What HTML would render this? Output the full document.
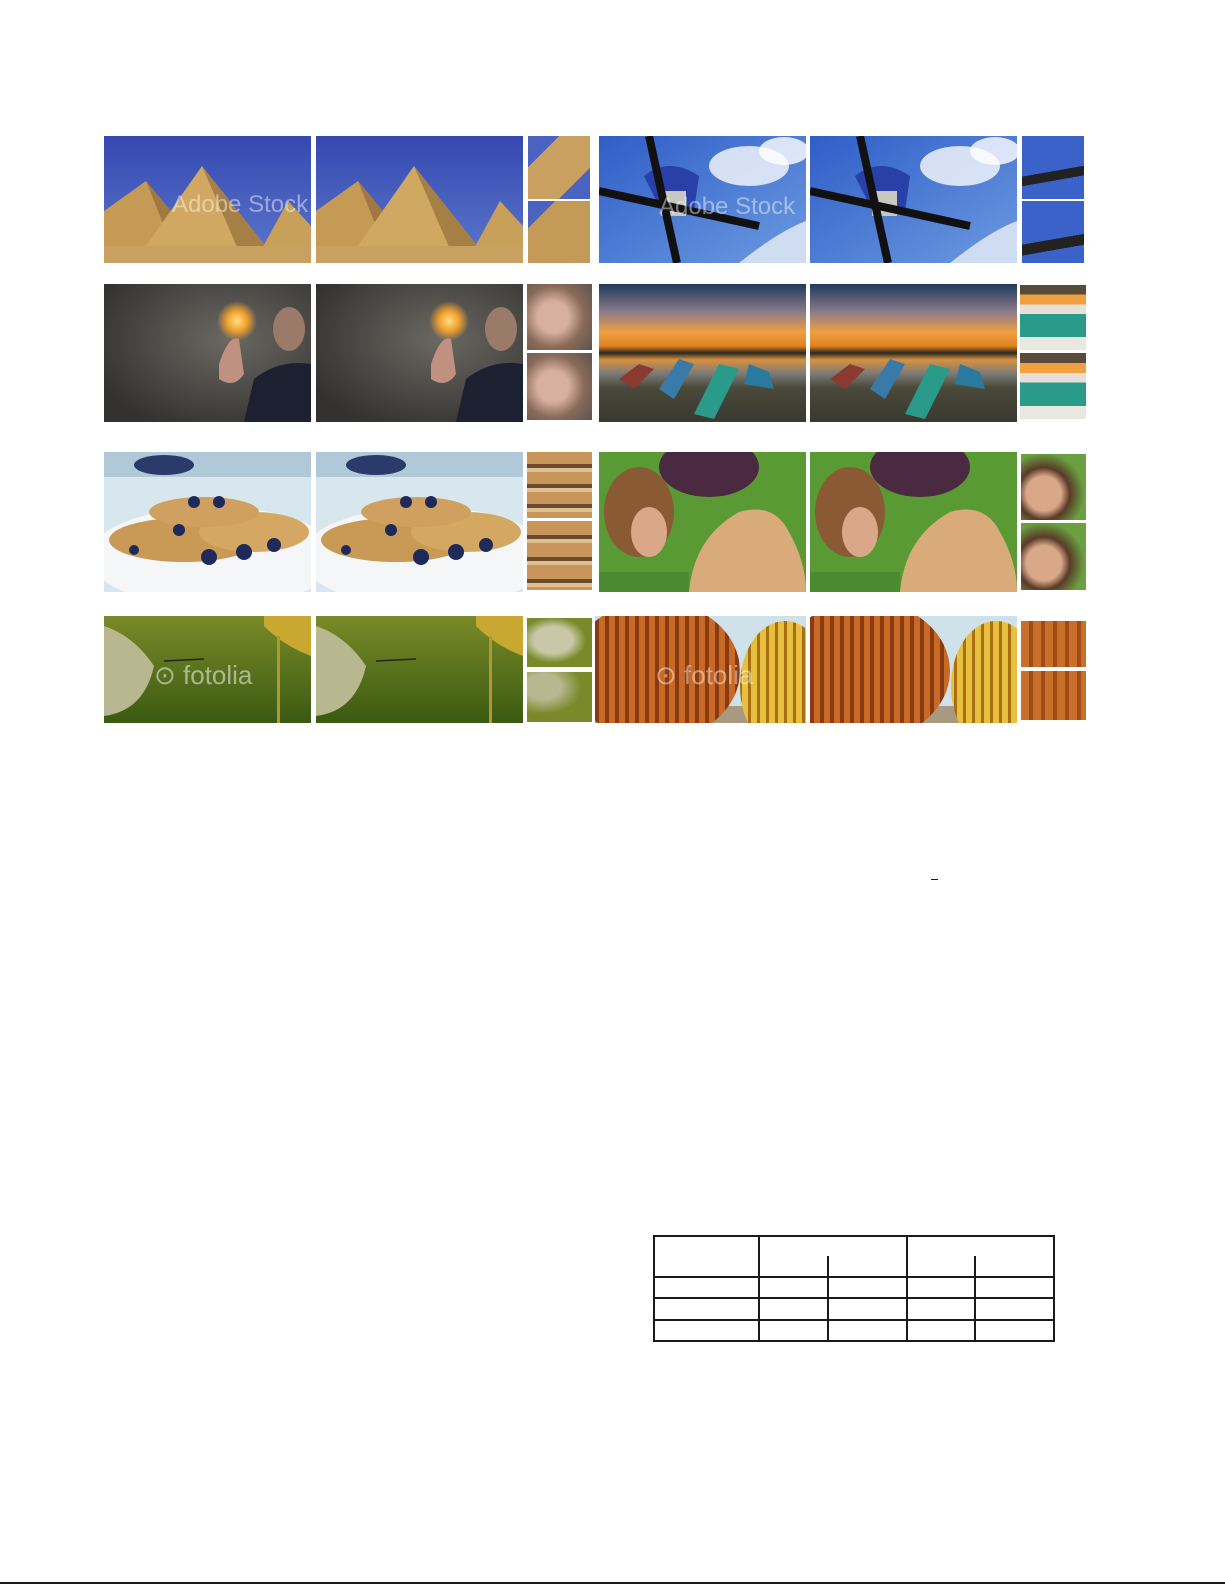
<!DOCTYPE html>
<html><head><meta charset="utf-8"><style>
body{margin:0;width:1225px;height:1585px;background:#fff;position:relative;overflow:hidden;font-family:"Liberation Sans",sans-serif}
.p{position:absolute;display:block}
.ln{position:absolute;background:#1a1a1a}
</style></head><body>

<!-- Row 1: pyramids -->
<svg class="p" style="left:104px;top:136px" width="207" height="127" viewBox="0 0 207 127" preserveAspectRatio="none">
<defs><linearGradient id="sky1" x1="0" y1="0" x2="0" y2="1"><stop offset="0" stop-color="#3548b0"/><stop offset="1" stop-color="#5c78cc"/></linearGradient></defs>
<rect width="207" height="127" fill="url(#sky1)"/>
<polygon points="0,127 0,75 42,45 110,127" fill="#c59a55"/><polygon points="42,45 110,127 75,127" fill="#a07840"/>
<polygon points="30,127 98,30 175,127" fill="#d0a862"/><polygon points="98,30 175,127 140,127" fill="#a67f45"/>
<polygon points="150,127 184,65 207,90 207,127" fill="#c9a05a"/>
<rect y="110" width="207" height="17" fill="#c8a060"/>
<text x="68" y="76" font-size="24" fill="#ffffff" fill-opacity="0.45">Adobe Stock</text>
</svg>
<svg class="p" style="left:316px;top:136px" width="207" height="127" viewBox="0 0 207 127" preserveAspectRatio="none">
<rect width="207" height="127" fill="url(#sky1)"/>
<polygon points="0,127 0,75 42,45 110,127" fill="#c59a55"/><polygon points="42,45 110,127 75,127" fill="#a07840"/>
<polygon points="30,127 98,30 175,127" fill="#d0a862"/><polygon points="98,30 175,127 140,127" fill="#a67f45"/>
<polygon points="150,127 184,65 207,90 207,127" fill="#c9a05a"/>
<rect y="110" width="207" height="17" fill="#c8a060"/>
</svg>
<div class="p" style="left:528px;top:136px;width:62px;height:63px;background:linear-gradient(135deg,#4a62c0 0 25%,#c9a060 25% 75%,#4a62c0 75%)"></div>
<div class="p" style="left:528px;top:201px;width:62px;height:62px;background:linear-gradient(135deg,#4a62c0 0 22%,#c49a58 22%)"></div>

<svg class="p" style="left:599px;top:136px" width="207" height="127" viewBox="0 0 207 127" preserveAspectRatio="none">
<defs><linearGradient id="sky2" x1="0" y1="0" x2="1" y2="1"><stop offset="0" stop-color="#2f5ec8"/><stop offset="1" stop-color="#6c9ae0"/></linearGradient></defs>
<rect width="207" height="127" fill="url(#sky2)"/>
<ellipse cx="150" cy="30" rx="40" ry="20" fill="#eef3fb" opacity="0.85"/><ellipse cx="185" cy="15" rx="25" ry="14" fill="#fff" opacity="0.8"/>
<path d="M140 127 Q180 95 207 85 L207 127Z" fill="#cfdcf2"/>
<path d="M45 40 Q70 20 100 40 L95 75 L60 70Z" fill="#2840a8"/>
<rect x="62" y="55" width="25" height="25" fill="#c8c8c0"/>
<line x1="0" y1="55" x2="160" y2="90" stroke="#111" stroke-width="8"/>
<line x1="50" y1="0" x2="78" y2="127" stroke="#111" stroke-width="8"/>
<text x="60" y="78" font-size="24" fill="#fff" fill-opacity="0.45">Adobe Stock</text>
</svg>
<svg class="p" style="left:810px;top:136px" width="207" height="127" viewBox="0 0 207 127" preserveAspectRatio="none">
<rect width="207" height="127" fill="url(#sky2)"/>
<ellipse cx="150" cy="30" rx="40" ry="20" fill="#eef3fb" opacity="0.85"/><ellipse cx="185" cy="15" rx="25" ry="14" fill="#fff" opacity="0.8"/>
<path d="M140 127 Q180 95 207 85 L207 127Z" fill="#cfdcf2"/>
<path d="M45 40 Q70 20 100 40 L95 75 L60 70Z" fill="#2840a8"/>
<rect x="62" y="55" width="25" height="25" fill="#c8c8c0"/>
<line x1="0" y1="55" x2="160" y2="90" stroke="#111" stroke-width="8"/>
<line x1="50" y1="0" x2="78" y2="127" stroke="#111" stroke-width="8"/>
</svg>
<div class="p" style="left:1022px;top:136px;width:62px;height:63px;background:linear-gradient(170deg,#3a62c8 0 55%,#222 55% 68%,#3a62c8 68%)"></div>
<div class="p" style="left:1022px;top:201px;width:62px;height:62px;background:linear-gradient(170deg,#3a62c8 0 60%,#222 60% 75%,#3a62c8 75%)"></div>

<!-- Row 2 -->
<svg class="p" style="left:104px;top:284px" width="207" height="138" viewBox="0 0 207 138" preserveAspectRatio="none">
<defs><radialGradient id="g1" cx="0.6" cy="0.4" r="0.7"><stop offset="0" stop-color="#6a6862"/><stop offset="1" stop-color="#343230"/></radialGradient>
<radialGradient id="glow" cx="0.5" cy="0.5" r="0.5"><stop offset="0" stop-color="#ffe080"/><stop offset="0.5" stop-color="#f0a030"/><stop offset="1" stop-color="#f0a030" stop-opacity="0"/></radialGradient></defs>
<rect width="207" height="138" fill="url(#g1)"/>
<path d="M140 138 L150 95 Q175 75 207 80 L207 138Z" fill="#1c2030"/>
<ellipse cx="185" cy="45" rx="16" ry="22" fill="#9a7a68"/>
<circle cx="133" cy="37" r="20" fill="url(#glow)"/>
<path d="M115 80 Q125 50 135 55 L140 90 Q130 105 115 95Z" fill="#c09080"/>
</svg>
<svg class="p" style="left:316px;top:284px" width="207" height="138" viewBox="0 0 207 138" preserveAspectRatio="none">
<rect width="207" height="138" fill="url(#g1)"/>
<path d="M140 138 L150 95 Q175 75 207 80 L207 138Z" fill="#1c2030"/>
<ellipse cx="185" cy="45" rx="16" ry="22" fill="#9a7a68"/>
<circle cx="133" cy="37" r="20" fill="url(#glow)"/>
<path d="M115 80 Q125 50 135 55 L140 90 Q130 105 115 95Z" fill="#c09080"/>
</svg>
<div class="p" style="left:527px;top:284px;width:65px;height:66px;background:radial-gradient(circle at 40% 50%,#d8b0a0 0 30%,#8a6a58 60%,#5a5450)"></div>
<div class="p" style="left:527px;top:353px;width:65px;height:67px;background:radial-gradient(circle at 40% 50%,#d8b0a0 0 30%,#8a6a58 60%,#5a5450)"></div>

<svg class="p" style="left:599px;top:284px" width="207" height="138" viewBox="0 0 207 138" preserveAspectRatio="none">
<defs><linearGradient id="sun" x1="0" y1="0" x2="0" y2="1"><stop offset="0" stop-color="#1e3a5a"/><stop offset="0.2" stop-color="#8a7a8a"/><stop offset="0.35" stop-color="#f0a040"/><stop offset="0.45" stop-color="#e08020"/><stop offset="0.5" stop-color="#2a2a20"/><stop offset="0.55" stop-color="#d89040"/><stop offset="0.65" stop-color="#7a7a78"/><stop offset="0.75" stop-color="#4a4a3a"/><stop offset="1" stop-color="#3a3830"/></linearGradient></defs>
<rect width="207" height="138" fill="url(#sun)"/>
<path d="M60 105 L80 75 L95 80 L75 115Z" fill="#3a7aa8"/><path d="M95 130 L120 80 L140 85 L115 135Z" fill="#2a9a8a"/>
<path d="M20 95 L40 80 L55 85 L35 105Z" fill="#8a3a30"/><path d="M145 100 L150 80 L170 88 L175 105Z" fill="#2a7aa0"/>
</svg>
<svg class="p" style="left:810px;top:284px" width="207" height="138" viewBox="0 0 207 138" preserveAspectRatio="none">
<rect width="207" height="138" fill="url(#sun)"/>
<path d="M60 105 L80 75 L95 80 L75 115Z" fill="#3a7aa8"/><path d="M95 130 L120 80 L140 85 L115 135Z" fill="#2a9a8a"/>
<path d="M20 95 L40 80 L55 85 L35 105Z" fill="#8a3a30"/><path d="M145 100 L150 80 L170 88 L175 105Z" fill="#2a7aa0"/>
</svg>
<div class="p" style="left:1020px;top:285px;width:66px;height:65px;background:linear-gradient(#5a4a3a 0 15%,#f0a040 15% 30%,#e8e0d8 30% 45%,#2a9a8a 45% 80%,#e8e8e0 80%)"></div>
<div class="p" style="left:1020px;top:353px;width:66px;height:66px;background:linear-gradient(#5a4a3a 0 15%,#f0a040 15% 30%,#e8e0d8 30% 45%,#2a9a8a 45% 80%,#e8e8e0 80%)"></div>

<!-- Row 3 -->
<svg class="p" style="left:104px;top:452px" width="207" height="140" viewBox="0 0 207 140" preserveAspectRatio="none">
<rect width="207" height="140" fill="#d8e6ee"/>
<rect width="207" height="25" fill="#b0c8d8"/>
<ellipse cx="110" cy="105" rx="125" ry="50" fill="#f4f6f8"/>
<ellipse cx="80" cy="88" rx="75" ry="22" fill="#c89a55"/><ellipse cx="150" cy="80" rx="55" ry="20" fill="#d4a862"/><ellipse cx="100" cy="60" rx="55" ry="15" fill="#cfa060"/>
<ellipse cx="60" cy="13" rx="30" ry="10" fill="#2a3a6a"/>
<g fill="#1e2a5a"><circle cx="90" cy="50" r="6"/><circle cx="115" cy="50" r="6"/><circle cx="105" cy="105" r="8"/><circle cx="140" cy="100" r="8"/><circle cx="170" cy="93" r="7"/><circle cx="30" cy="98" r="5"/><circle cx="75" cy="78" r="6"/></g>
</svg>
<svg class="p" style="left:316px;top:452px" width="207" height="140" viewBox="0 0 207 140" preserveAspectRatio="none">
<rect width="207" height="140" fill="#d8e6ee"/>
<rect width="207" height="25" fill="#b0c8d8"/>
<ellipse cx="110" cy="105" rx="125" ry="50" fill="#f4f6f8"/>
<ellipse cx="80" cy="88" rx="75" ry="22" fill="#c89a55"/><ellipse cx="150" cy="80" rx="55" ry="20" fill="#d4a862"/><ellipse cx="100" cy="60" rx="55" ry="15" fill="#cfa060"/>
<ellipse cx="60" cy="13" rx="30" ry="10" fill="#2a3a6a"/>
<g fill="#1e2a5a"><circle cx="90" cy="50" r="6"/><circle cx="115" cy="50" r="6"/><circle cx="105" cy="105" r="8"/><circle cx="140" cy="100" r="8"/><circle cx="170" cy="93" r="7"/><circle cx="30" cy="98" r="5"/><circle cx="75" cy="78" r="6"/></g>
</svg>
<div class="p" style="left:527px;top:452px;width:65px;height:66px;background:repeating-linear-gradient(#c8955a 0 12px,#6a4a30 12px 16px,#e0c090 16px 20px)"></div>
<div class="p" style="left:527px;top:521px;width:65px;height:69px;background:repeating-linear-gradient(#c8955a 0 14px,#6a4a30 14px 18px,#e0c090 18px 22px)"></div>

<svg class="p" style="left:599px;top:452px" width="207" height="140" viewBox="0 0 207 140" preserveAspectRatio="none">
<rect width="207" height="140" fill="#5a9a35"/>
<ellipse cx="110" cy="15" rx="50" ry="30" fill="#4a2a40"/>
<ellipse cx="40" cy="60" rx="35" ry="45" fill="#8a5a35"/><ellipse cx="50" cy="80" rx="18" ry="25" fill="#d8a888"/>
<path d="M90 140 Q95 85 140 60 Q175 50 190 80 Q207 110 207 140Z" fill="#d8ab78"/>
<rect y="120" width="90" height="20" fill="#4a8a30"/>
</svg>
<svg class="p" style="left:810px;top:452px" width="207" height="140" viewBox="0 0 207 140" preserveAspectRatio="none">
<rect width="207" height="140" fill="#5a9a35"/>
<ellipse cx="110" cy="15" rx="50" ry="30" fill="#4a2a40"/>
<ellipse cx="40" cy="60" rx="35" ry="45" fill="#8a5a35"/><ellipse cx="50" cy="80" rx="18" ry="25" fill="#d8a888"/>
<path d="M90 140 Q95 85 140 60 Q175 50 190 80 Q207 110 207 140Z" fill="#d8ab78"/>
<rect y="120" width="90" height="20" fill="#4a8a30"/>
</svg>
<div class="p" style="left:1021px;top:454px;width:65px;height:66px;background:radial-gradient(circle at 35% 60%,#d8a888 0 30%,#5a3a28 45%,#6aa040 70%)"></div>
<div class="p" style="left:1021px;top:523px;width:65px;height:67px;background:radial-gradient(circle at 35% 60%,#d8a888 0 30%,#5a3a28 45%,#6aa040 70%)"></div>

<!-- Row 4 -->
<svg class="p" style="left:104px;top:616px" width="207" height="107" viewBox="0 0 207 107" preserveAspectRatio="none">
<defs><linearGradient id="gr" x1="0" y1="0" x2="0" y2="1"><stop offset="0" stop-color="#7a8a28"/><stop offset="1" stop-color="#3a5a12"/></linearGradient></defs>
<rect width="207" height="107" fill="url(#gr)"/>
<path d="M160 0 L207 0 L207 40 Q180 30 160 10Z" fill="#c8a830"/>
<rect x="173" y="20" width="3" height="87" fill="#b09a30"/>
<path d="M0 10 Q30 20 50 50 Q40 95 0 100Z" fill="#b8b890"/>
<line x1="60" y1="45" x2="100" y2="43" stroke="#222" stroke-width="1.5"/>
<text x="50" y="68" font-size="26" fill="#fff" fill-opacity="0.5">⊙ fotolia</text>
</svg>
<svg class="p" style="left:316px;top:616px" width="207" height="107" viewBox="0 0 207 107" preserveAspectRatio="none">
<rect width="207" height="107" fill="url(#gr)"/>
<path d="M160 0 L207 0 L207 40 Q180 30 160 10Z" fill="#c8a830"/>
<rect x="173" y="20" width="3" height="87" fill="#b09a30"/>
<path d="M0 10 Q30 20 50 50 Q40 95 0 100Z" fill="#b8b890"/>
<line x1="60" y1="45" x2="100" y2="43" stroke="#222" stroke-width="1.5"/>
</svg>
<div class="p" style="left:527px;top:618px;width:65px;height:49px;background:radial-gradient(ellipse at 40% 45%,#c8c8a8 0 35%,#7a8a2a 60%)"></div>
<div class="p" style="left:527px;top:672px;width:65px;height:50px;background:radial-gradient(ellipse at 25% 30%,#b8b890 0 25%,#7a8a2a 55%)"></div>

<svg class="p" style="left:595px;top:616px" width="211" height="107" viewBox="0 0 211 107" preserveAspectRatio="none">
<defs><pattern id="st" width="10" height="107" patternUnits="userSpaceOnUse"><rect width="10" height="107" fill="#c86a25"/><rect width="4" height="107" fill="#8a3a10"/></pattern>
<pattern id="st2" width="9" height="107" patternUnits="userSpaceOnUse"><rect width="9" height="107" fill="#e8c040"/><rect width="3" height="107" fill="#a87010"/></pattern></defs>
<rect width="211" height="107" fill="#cfe2ea"/>
<rect y="90" width="211" height="17" fill="#a89a80"/>
<ellipse cx="60" cy="55" rx="85" ry="70" fill="url(#st)"/>
<ellipse cx="190" cy="70" rx="45" ry="65" fill="url(#st2)"/>
<text x="60" y="68" font-size="26" fill="#fff" fill-opacity="0.45">⊙ fotolia</text>
</svg>
<svg class="p" style="left:810px;top:616px" width="207" height="107" viewBox="0 0 207 107" preserveAspectRatio="none">
<rect width="207" height="107" fill="#cfe2ea"/>
<rect y="90" width="207" height="17" fill="#a89a80"/>
<ellipse cx="55" cy="55" rx="85" ry="70" fill="url(#st)"/>
<ellipse cx="186" cy="70" rx="45" ry="65" fill="url(#st2)"/>
</svg>
<div class="p" style="left:1021px;top:621px;width:65px;height:46px;background:repeating-linear-gradient(90deg,#c8702a 0 8px,#a04a18 8px 12px)"></div>
<div class="p" style="left:1021px;top:671px;width:65px;height:49px;background:repeating-linear-gradient(90deg,#c8702a 0 8px,#a04a18 8px 12px)"></div>

<div class="ln" style="left:931px;top:879px;width:7px;height:1px"></div>

<!-- Table -->
<div>
<div class="ln" style="left:653px;top:1235px;width:402px;height:2px"></div>
<div class="ln" style="left:653px;top:1276px;width:402px;height:2px"></div>
<div class="ln" style="left:653px;top:1297px;width:402px;height:2px"></div>
<div class="ln" style="left:653px;top:1319px;width:402px;height:2px"></div>
<div class="ln" style="left:653px;top:1340px;width:402px;height:2px"></div>
<div class="ln" style="left:653px;top:1235px;width:2px;height:107px"></div>
<div class="ln" style="left:758px;top:1235px;width:2px;height:107px"></div>
<div class="ln" style="left:827px;top:1256px;width:2px;height:86px"></div>
<div class="ln" style="left:906px;top:1235px;width:2px;height:107px"></div>
<div class="ln" style="left:974px;top:1256px;width:2px;height:86px"></div>
<div class="ln" style="left:1053px;top:1235px;width:2px;height:107px"></div>
</div>

<div class="ln" style="left:0;top:1582px;width:1225px;height:2px"></div>
</body></html>
